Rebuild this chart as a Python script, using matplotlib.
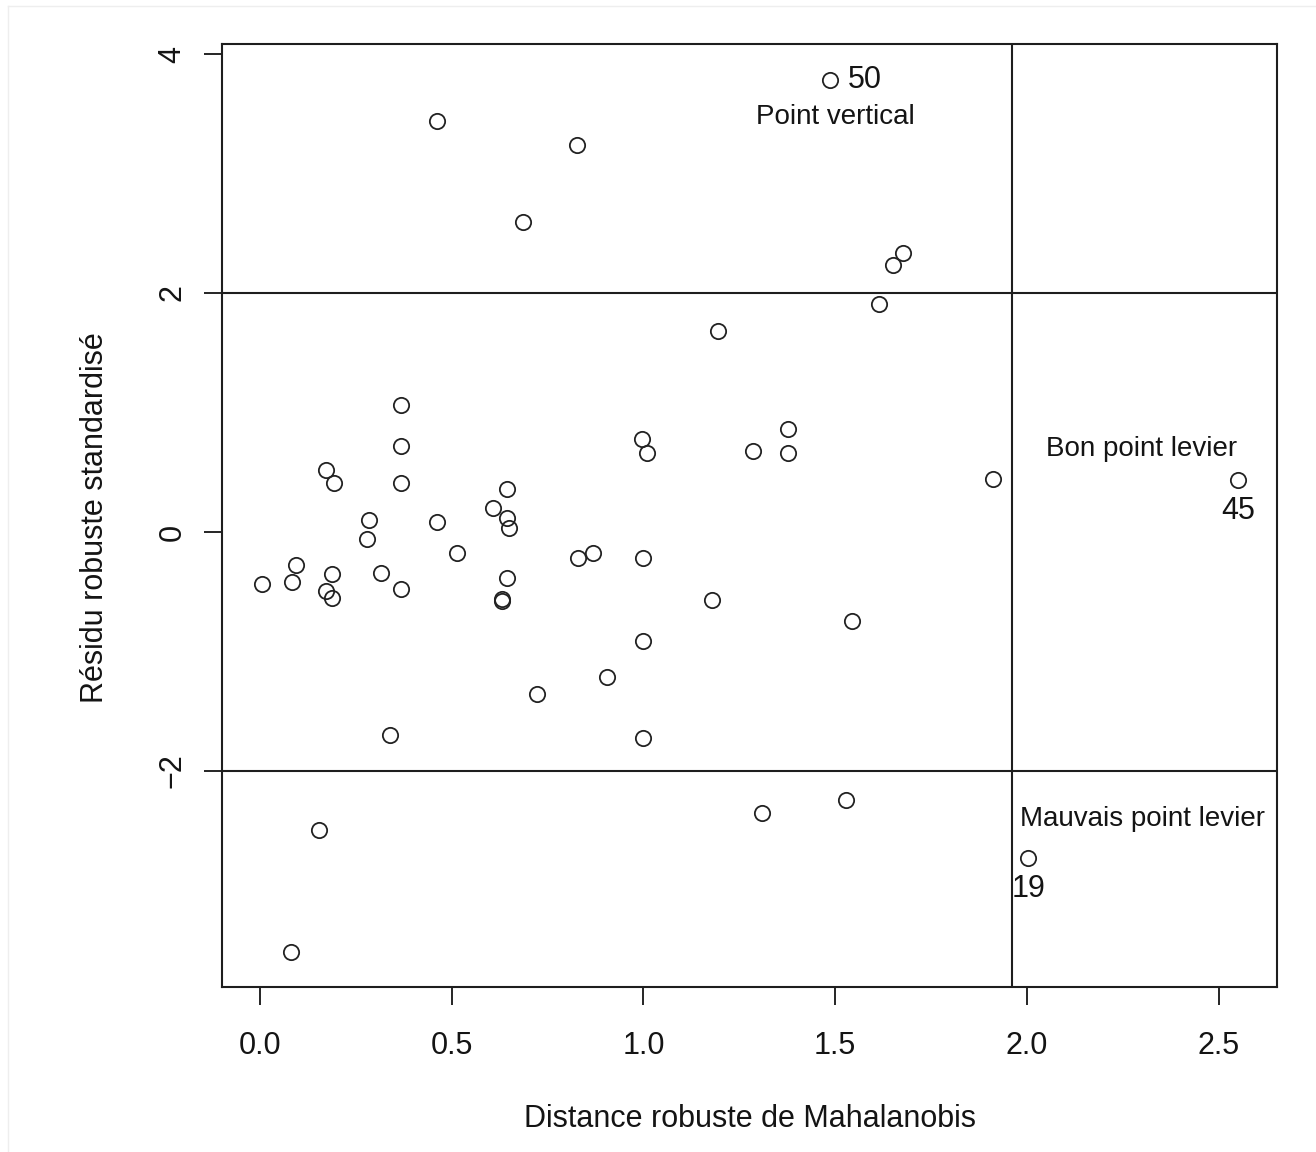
"""Diagnostic plot: standardized robust residual vs robust Mahalanobis distance."""
import matplotlib
matplotlib.use('Agg')
import matplotlib.pyplot as plt
from matplotlib.lines import Line2D

# ── Data ──
dist = [1.486, 0.462, 0.827, 0.686, 1.677, 1.651, 1.614, 1.194,
        0.369, 0.369, 0.369, 0.173, 0.192, 0.996, 1.010, 1.286,
        1.377, 1.377, 1.911, 2.550, 0.643, 0.608, 0.645, 0.650,
        0.284, 0.461, 0.278, 0.515, 0.869, 0.829, 0.998, 0.004,
        0.094, 0.083, 0.187, 0.315, 0.173, 0.187, 0.369, 0.643,
        0.630, 0.632, 1.179, 1.544, 0.998, 0.905, 0.722, 0.339,
        0.998, 1.528, 1.309, 0.154, 2.003, 0.081]
resid = [3.782, 3.439, 3.238, 2.594, 2.335, 2.234, 1.908, 1.682,
         1.063, 0.722, 0.412, 0.519, 0.412, 0.781, 0.664, 0.678,
         0.862, 0.661, 0.444, 0.435, 0.360, 0.199, 0.120, 0.031,
         0.100, 0.086, -0.061, -0.179, -0.173, -0.221, -0.221, -0.438,
         -0.276, -0.422, -0.351, -0.341, -0.498, -0.554, -0.477, -0.381,
         -0.562, -0.575, -0.569, -0.745, -0.912, -1.213, -1.356, -1.699,
         -1.724, -2.243, -2.351, -2.494, -2.728, -3.515]

labelled = {50: (1.486, 3.782), 45: (2.550, 0.435), 19: (2.003, -2.728)}
cutoff_x = 1.96
cutoff_y = [-2, 2]
xticks = [0.0, 0.5, 1.0, 1.5, 2.0, 2.5]
yticks = [-2, 0, 2, 4]

TEXT = '#141414'
plt.rcParams.update({
    'font.family': ['Liberation Sans', 'DejaVu Sans'],
    'font.size': 22,
    'text.color': TEXT,
    'xtick.color': TEXT,
    'ytick.color': TEXT,
})

fig = plt.figure(figsize=(13.16, 11.52), dpi=100)
ax = fig.add_axes([222 / 1316, 1 - 987 / 1152, (1277 - 222) / 1316, (987 - 44) / 1152])

ax.plot(dist, resid, linestyle='none', marker='o', markersize=11,
        markerfacecolor='none', markeredgecolor='#222222', markeredgewidth=1.3)

# reference lines
ax.axvline(cutoff_x, color='#1e1e1e', linewidth=1.5)
for yv in cutoff_y:
    ax.axhline(yv, color='#1e1e1e', linewidth=1.5)

# point labels
ax.annotate('50', labelled[50], xytext=(13, 0), textcoords='offset points',
            ha='left', va='center', fontsize=22)
ax.annotate('45', labelled[45], xytext=(0, -22), textcoords='offset points',
            ha='center', va='center', fontsize=22)
ax.annotate('19', labelled[19], xytext=(0, -22), textcoords='offset points',
            ha='center', va='center', fontsize=22)

# region labels
ax.text(1.5, 3.475, 'Point vertical', ha='center', va='center', fontsize=20)
ax.text(2.3, 0.695, 'Bon point levier', ha='center', va='center', fontsize=20)
ax.text(2.3, -2.405, 'Mauvais point levier', ha='center', va='center', fontsize=20)

ax.set_xlim(-0.099, 2.652)
ax.set_ylim(-3.808, 4.084)
ax.set_xticks(xticks)
ax.set_xticklabels([f'{v:.1f}' for v in xticks])
ax.set_yticks(yticks)
ax.set_yticklabels([str(v).replace('-', '\u2212') for v in yticks])
ax.tick_params(direction='out', length=13, width=1.3, labelsize=22)
ax.tick_params(axis='x', pad=19)
ax.tick_params(axis='y', pad=12)
for lab in ax.get_yticklabels():
    lab.set_rotation(90)
    lab.set_va('center')

for sp in ax.spines.values():
    sp.set_linewidth(1.5)
    sp.set_color('#1e1e1e')

fig.text(749.5 / 1316, 1 - 1119 / 1152, 'Distance robuste de Mahalanobis',
         ha='center', va='center', fontsize=22)
fig.text(95 / 1316, 1 - 518 / 1152, 'Résidu robuste standardisé',
         ha='center', va='center', rotation=90, fontsize=22)

# faint page border seen in the reference
fig.add_artist(Line2D([8 / 1316, 1], [1 - 6 / 1152] * 2, color='#eeeeee', linewidth=1))
fig.add_artist(Line2D([8 / 1316] * 2, [0, 1 - 6 / 1152], color='#eeeeee', linewidth=1))

fig.savefig('out.png', dpi=100, facecolor='white')
plt.close(fig)
